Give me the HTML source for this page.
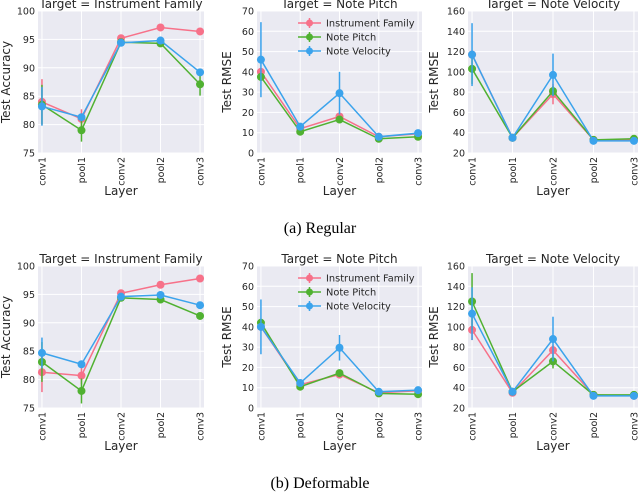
<!DOCTYPE html>
<html><head><meta charset="utf-8">
<style>
body{margin:0;background:#fff;}
svg{display:block;font-family:"DejaVu Sans","Liberation Sans",sans-serif;}
</style></head>
<body>
<svg id="fig" width="640" height="494" viewBox="0 0 640 494">
<text x="320" y="233" text-anchor="middle" font-family="Liberation Serif, serif" font-size="16">(a) Regular</text>
<text x="320" y="488" text-anchor="middle" font-family="Liberation Serif, serif" font-size="16">(b) Deformable</text>
</svg>
<script>
const categories = ["conv1","pool1","conv2","pool2","conv3"];
const seriesNames = ["Instrument Family","Note Pitch","Note Velocity"];
const colors = ["#f77189","#50b131","#3ba3ec"];

// Regular
const regAccIF = [84,81,95.2,97.1,96.4];
const regAccNP = [83.5,79,94.5,94.3,87.1];
const regAccNV = [83.2,81.3,94.4,94.8,89.2];
const regAccErrIF = [4,1.7,0.4,0.3,0.3];
const regAccErrNP = [3.5,2,0.4,0.4,2];
const regAccErrNV = [3.4,0.5,0.3,0.7,0.5];
const regPitchIF = [40,12,18,8,9.5];
const regPitchNP = [37.5,10.5,16.5,7,8];
const regPitchNV = [46,13,29.5,8,9.8];
const regPitchErrIF = [2,1,1.2,0.5,0.5];
const regPitchErrNP = [2,1,1.2,0.5,0.5];
const regPitchErrNV = [18.5,1.5,10.5,0.7,0.7];
const regVelIF = [117,35,78,33,33];
const regVelNP = [103,35,81,33,34];
const regVelNV = [117,35,97,32,32];
const regVelErrIF = [3,1,10,1,1];
const regVelErrNP = [15,1,5,1,1];
const regVelErrNV = [31,1,21,1,1];
// Deformable
const defAccIF = [81.3,80.7,95.2,96.7,97.8];
const defAccNP = [83.1,78,94.4,94.1,91.2];
const defAccNV = [84.7,82.7,94.6,94.9,93.1];
const defAccErrIF = [3.5,1.5,0.3,0.3,0.3];
const defAccErrNP = [3.5,2.2,0.3,0.3,0.4];
const defAccErrNV = [2.7,0.5,0.3,0.3,0.3];
const defPitchIF = [40,11.5,16.5,7.5,8.5];
const defPitchNP = [42,10.5,17.2,7.2,6.8];
const defPitchNV = [40,12.3,29.7,8,8.8];
const defPitchErrIF = [2,1,2,0.5,0.5];
const defPitchErrNP = [2,1,1,0.5,0.5];
const defPitchErrNV = [13.5,1.5,6.3,0.5,0.5];
const defVelIF = [97,35,77,33,32];
const defVelNP = [125,36,66,33,33];
const defVelNV = [113,36,88,32,32];
const defVelErrIF = [10,1,5,1,1];
const defVelErrNP = [28,1,7,1,1];
const defVelErrNV = [26,1,22,1,1];

const accTicks = [75,80,85,90,95,100];
const pitchTicks = [0,10,20,30,40,50,60,70];
const velTicks = [20,40,60,80,100,120,140,160];

const NS = "http://www.w3.org/2000/svg";
const svg = document.getElementById("fig");
function el(tag, attrs, parent){
  const e = document.createElementNS(NS, tag);
  for (const k in attrs) e.setAttribute(k, attrs[k]);
  (parent||svg).appendChild(e);
  return e;
}

function panel(cfg){
  const g = el("g", {});
  
  
  const {x0,x1,y0,y1,ticks} = cfg;
  const vmin = ticks[0], vmax = ticks[ticks.length-1];
  const step = (x1-x0)/(categories.length-1+0.2);
  const xs = i => x0 + step*(0.1+i);
  const ys = v => y1 - (v-vmin)/(vmax-vmin)*(y1-y0);
  const bg = el("rect",{x:x0,y:y0,width:x1-x0,height:y1-y0,fill:"#eaeaf2"},g);
  
  
  ticks.forEach(t=>{
    el("line",{x1:x0,x2:x1,y1:ys(t),y2:ys(t),stroke:"#fff","stroke-width":1},g);
    const tl = el("text",{x:x0-3,y:ys(t)+3.5,"text-anchor":"end","font-size":9.5,fill:"#262626"},g);
    tl.textContent = t;
    
    
  });
  categories.forEach((c,i)=>{
    el("line",{x1:xs(i),x2:xs(i),y1:y0,y2:y1,stroke:"#fff","stroke-width":1},g);
    const tl = el("text",{x:0,y:0,"text-anchor":"end","font-size":9.5,fill:"#262626",
      transform:`translate(${xs(i)+3.5},${y1+4}) rotate(-90)`},g);
    tl.textContent = c;
    
    
  });
  const title = el("text",{x:(x0+x1)/2,y:y0-3,"text-anchor":"middle","font-size":12,fill:"#262626"},g);
  title.textContent = cfg.title;
  
  
  const xl = el("text",{x:(x0+x1)/2,y:y1+42,"text-anchor":"middle","font-size":12,fill:"#262626"},g);
  xl.textContent = "Layer";
  
  
  const yl = el("text",{x:0,y:0,"text-anchor":"middle","font-size":12,fill:"#262626",
    transform:`translate(${cfg.ylx},${(y0+y1)/2}) rotate(-90)`},g);
  yl.textContent = cfg.ylabel;
  
  
  cfg.series.forEach((vals,s)=>{
    const errs = cfg.errs[s];
    const sg = el("g",{},g);
    
    
    vals.forEach((v,i)=>{
      const eb = el("line",{x1:xs(i),x2:xs(i),y1:ys(v-errs[i]),y2:ys(v+errs[i]),stroke:colors[s],"stroke-width":1.5},sg);
      
      
    });
    const pl = el("polyline",{points:vals.map((v,i)=>xs(i)+","+ys(v)).join(" "),fill:"none",stroke:colors[s],"stroke-width":1.5},sg);
    
    
    vals.forEach((v,i)=>{
      const p = el("circle",{cx:xs(i),cy:ys(v),r:4,fill:colors[s]},sg);
      
      
    });
  });
  if (cfg.legend){
    const lg = el("g",{},g);
    
    
    seriesNames.forEach((n,s)=>{
      const ly = y0 + 12 + s*14;
      const it = el("g",{},lg);
      
      
      el("line",{x1:298,x2:321,y1:ly,y2:ly,stroke:colors[s],"stroke-width":1.5},it);
      el("line",{x1:309.5,x2:309.5,y1:ly-5,y2:ly+5,stroke:colors[s],"stroke-width":1.5},it);
      el("circle",{cx:309.5,cy:ly,r:3.5,fill:colors[s]},it);
      const t = el("text",{x:326,y:ly+3.5,"font-size":9.8,fill:"#262626"},it);
      t.textContent = n;
    });
  }
}

const rows = [
  {y0:11,y1:153,pre:"regular",
   acc:[regAccIF,regAccNP,regAccNV],accE:[regAccErrIF,regAccErrNP,regAccErrNV],
   pit:[regPitchIF,regPitchNP,regPitchNV],pitE:[regPitchErrIF,regPitchErrNP,regPitchErrNV],
   vel:[regVelIF,regVelNP,regVelNV],velE:[regVelErrIF,regVelErrNP,regVelErrNV]},
  {y0:266,y1:408,pre:"deformable",
   acc:[defAccIF,defAccNP,defAccNV],accE:[defAccErrIF,defAccErrNP,defAccErrNV],
   pit:[defPitchIF,defPitchNP,defPitchNV],pitE:[defPitchErrIF,defPitchErrNP,defPitchErrNV],
   vel:[defVelIF,defVelNP,defVelNV],velE:[defVelErrIF,defVelErrNP,defVelErrNV]}
];
rows.forEach(r=>{
  panel({name:r.pre+"-instrument-family-panel",x0:38,x1:204,y0:r.y0,y1:r.y1,ticks:accTicks,
    title:"Target = Instrument Family",ylabel:"Test Accuracy",ylx:10,series:r.acc,errs:r.accE});
  panel({name:r.pre+"-note-pitch-panel",x0:257,x1:422,y0:r.y0,y1:r.y1,ticks:pitchTicks,
    title:"Target = Note Pitch",ylabel:"Test RMSE",ylx:231,series:r.pit,errs:r.pitE,legend:true});
  panel({name:r.pre+"-note-velocity-panel",x0:468,x1:638,y0:r.y0,y1:r.y1,ticks:velTicks,
    title:"Target = Note Velocity",ylabel:"Test RMSE",ylx:438,series:r.vel,errs:r.velE});
});
</script>
</body></html>
